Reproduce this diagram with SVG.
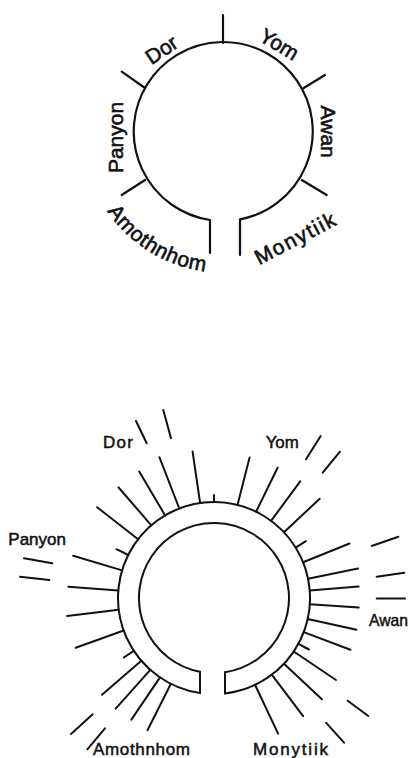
<svg xmlns="http://www.w3.org/2000/svg" width="411" height="758" viewBox="0 0 411 758">
<style>
.ln{stroke:#111;stroke-width:2.2;fill:none;stroke-linecap:round;stroke-linejoin:round}
.sp{stroke:#111;stroke-width:2;fill:none;stroke-linecap:round}
.t1{font-family:"Liberation Sans",Arial,sans-serif;font-size:21px;fill:#111;stroke:#111;stroke-width:0.6}
.t2{font-family:"Liberation Sans",Arial,sans-serif;font-size:17px;fill:#111;stroke:#111;stroke-width:0.5}
</style>
<defs>
<path id="arcAm" d="M96.1,191.7 A140,140 0 0 0 227.9,272.4"/>
</defs>
<rect width="411" height="758" fill="#fff"/>
<g id="top-diagram">
<path class="ln" d="M210,253 L210,220 A89.5,89.5 0 1 1 240,219.4 L240,255"/>
<g id="top-ticks">
<line class="ln" x1="223" y1="43" x2="223" y2="15"/>
<line class="ln" x1="145" y1="88" x2="121.7" y2="71.7"/>
<line class="ln" x1="303.3" y1="88.3" x2="325" y2="75"/>
<line class="ln" x1="145" y1="180" x2="121.7" y2="195"/>
<line class="ln" x1="301.7" y1="180" x2="326.7" y2="195"/>
</g>
<g id="top-labels">
<text class="t1" text-anchor="middle" transform="translate(165.6,55.8) rotate(-34)">Dor</text>
<text class="t1" text-anchor="middle" transform="translate(275.5,50.5) rotate(31)">Yom</text>
<text class="t1" text-anchor="middle" transform="translate(321,131.7) rotate(90)">Awan</text>
<text class="t1" text-anchor="middle" transform="translate(123.3,137.5) rotate(-90)">Panyon</text>
<text class="t1" letter-spacing="0.6"><textPath href="#arcAm" startOffset="50%" text-anchor="middle">Amothnhom</textPath></text>
<text class="t1" text-anchor="middle" letter-spacing="1.6" transform="translate(299,244.5) rotate(-27.5)">Monytiik</text>
</g>
</g>
<g id="bottom-diagram">
<path id="bottom-ring" class="sp" d="M200,671.7 L200,693 A96,96 0 1 1 225,693.4 L225,672.2 A75,75 0 1 0 200,671.7 Z"/>
<g id="spokes">
<line class="sp" x1="237.5" y1="504.9" x2="249.6" y2="457.4"/>
<line class="sp" x1="256.1" y1="511.7" x2="277.6" y2="467.7"/>
<line class="sp" x1="271.1" y1="520.8" x2="300.2" y2="481.4"/>
<line class="sp" x1="284" y1="532.3" x2="319.7" y2="498.7"/>
<line class="sp" x1="295.7" y1="547.6" x2="305.9" y2="541.2"/>
<line class="sp" x1="303.1" y1="562.2" x2="349.5" y2="543.5"/>
<line class="sp" x1="308" y1="578.7" x2="358" y2="568.4"/>
<line class="sp" x1="309.7" y1="590.5" x2="358.6" y2="586.6"/>
<line class="sp" x1="309.8" y1="604.2" x2="358.7" y2="607.4"/>
<line class="sp" x1="307.7" y1="618.9" x2="356.5" y2="629.8"/>
<line class="sp" x1="303.7" y1="632.1" x2="350.5" y2="649.8"/>
<line class="sp" x1="298.4" y1="643.8" x2="308.9" y2="649.5"/>
<line class="sp" x1="293.7" y1="651.5" x2="336" y2="680"/>
<line class="sp" x1="284" y1="663.7" x2="321.9" y2="699.3"/>
<line class="sp" x1="271.8" y1="674.7" x2="303.1" y2="716.2"/>
<line class="sp" x1="255" y1="684.8" x2="278.1" y2="733.6"/>
<line class="sp" x1="170.9" y1="683.8" x2="147.5" y2="730.2"/>
<line class="sp" x1="160" y1="677.4" x2="131.4" y2="719.6"/>
<line class="sp" x1="150.3" y1="669.8" x2="115.7" y2="708.7"/>
<line class="sp" x1="141.3" y1="660.7" x2="102" y2="694.7"/>
<line class="sp" x1="133.9" y1="650.8" x2="123.8" y2="657.5"/>
<line class="sp" x1="123.7" y1="630.5" x2="75.7" y2="647.8"/>
<line class="sp" x1="118.7" y1="609.7" x2="67.1" y2="616"/>
<line class="sp" x1="118.3" y1="590.6" x2="68.4" y2="586.8"/>
<line class="sp" x1="122.1" y1="570.4" x2="73.2" y2="555.8"/>
<line class="sp" x1="128.2" y1="555" x2="116.5" y2="549.2"/>
<line class="sp" x1="138.1" y1="539.2" x2="97.1" y2="507.3"/>
<line class="sp" x1="151.3" y1="525.3" x2="118.6" y2="487.5"/>
<line class="sp" x1="165.1" y1="515.4" x2="139.2" y2="471.5"/>
<line class="sp" x1="179.3" y1="508.5" x2="159.4" y2="457.2"/>
<line class="sp" x1="200.1" y1="503" x2="192.6" y2="451.6"/>
<line class="sp" x1="214" y1="502" x2="214" y2="495"/>
</g>
<g id="dashes">
<line class="sp" x1="163.3" y1="410" x2="171" y2="438.3"/>
<line class="sp" x1="136" y1="421" x2="146.7" y2="443.3"/>
<line class="sp" x1="320.7" y1="436" x2="306" y2="459.3"/>
<line class="sp" x1="340" y1="451.7" x2="322.7" y2="472.7"/>
<line class="sp" x1="398.3" y1="536.7" x2="371.7" y2="546"/>
<line class="sp" x1="404.3" y1="572.7" x2="376.7" y2="576.7"/>
<line class="sp" x1="405" y1="598.5" x2="376.7" y2="598.5"/>
<line class="sp" x1="347.7" y1="700.7" x2="368.3" y2="716"/>
<line class="sp" x1="326" y1="722.7" x2="344" y2="742.7"/>
<line class="sp" x1="87.3" y1="749.3" x2="105" y2="728.3"/>
<line class="sp" x1="71" y1="734" x2="92.7" y2="714.3"/>
<line class="sp" x1="24" y1="558.3" x2="52.3" y2="563.3"/>
<line class="sp" x1="20" y1="576.7" x2="49.3" y2="580"/>
</g>
<g id="bottom-labels">
<text class="t2" x="103" y="448.3" textLength="30" lengthAdjust="spacing">Dor</text>
<text class="t2" x="265.7" y="448.3" textLength="33" lengthAdjust="spacingAndGlyphs">Yom</text>
<text class="t2" x="8.3" y="545">Panyon</text>
<text class="t2" x="369" y="626.3" textLength="39" lengthAdjust="spacingAndGlyphs">Awan</text>
<text class="t2" x="93" y="755" textLength="97" lengthAdjust="spacing">Amothnhom</text>
<text class="t2" x="253" y="755" textLength="75" lengthAdjust="spacing">Monytiik</text>
</g>
</g>
</svg>
